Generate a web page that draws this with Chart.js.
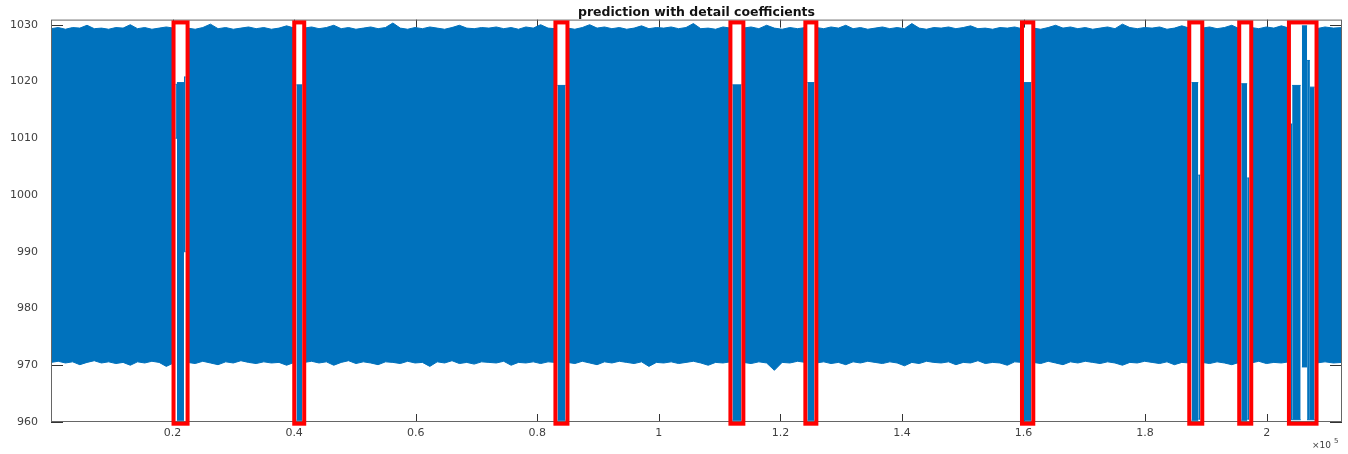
<!DOCTYPE html>
<html>
<head>
<meta charset="utf-8">
<script src="https://cdn.jsdelivr.net/npm/chart.js@4.4.0/dist/chart.umd.min.js"></script>
<style>
  html, body { margin: 0; padding: 0; background: #fff; }
  canvas { display: block; }
</style>
</head>
<body>
<canvas id="grafica" width="1348" height="454"></canvas>
<script>
// Ejes (x en unidades de 10^5)
const xTickValues = [0.2, 0.4, 0.6, 0.8, 1, 1.2, 1.4, 1.6, 1.8, 2];
const yTickValues = [960, 970, 980, 990, 1000, 1010, 1020, 1030];
const xMax = 2.124;
const yMin = 960;
const yMax = 1030.9;

// Banda principal de la señal: tramos entre los recuadros
const bandStart = [0, 0.2247, 0.4166, 0.8497, 1.1391, 1.2592, 1.6161, 1.8941, 1.9747, 2.0821];
const bandEnd = [0.2016, 0.4002, 0.8299, 1.1178, 1.2411, 1.5975, 1.8727, 1.9549, 2.0367, 2.124];
const bandTop = [
  [1029.3, 1029.5, 1029.2, 1029.5, 1029.4, 1029.9, 1029.3, 1029.4, 1029.2, 1029.5, 1029.4, 1030.0, 1029.3, 1029.5, 1029.2, 1029.4, 1029.6, 1029.4],
  [1029.4, 1029.2, 1029.5, 1030.1, 1029.3, 1029.5, 1029.2, 1029.4, 1029.6, 1029.3, 1029.5, 1029.2, 1029.4, 1029.8, 1029.4],
  [1029.4, 1029.6, 1029.3, 1029.5, 1029.9, 1029.3, 1029.5, 1029.2, 1029.4, 1029.6, 1029.3, 1029.5, 1030.3, 1029.4, 1029.2, 1029.5, 1029.3, 1029.6, 1029.4, 1029.2, 1029.5, 1029.9, 1029.4, 1029.3, 1029.5, 1029.4, 1029.6, 1029.3, 1029.5, 1029.2, 1029.6, 1029.4, 1030.0, 1029.4, 1029.3],
  [1029.4, 1029.2, 1029.5, 1030.0, 1029.4, 1029.6, 1029.3, 1029.5, 1029.2, 1029.4, 1029.8, 1029.3, 1029.5, 1029.4, 1029.6, 1029.3, 1029.5, 1030.2, 1029.3, 1029.4, 1029.2, 1029.6, 1029.4],
  [1029.4, 1029.6, 1029.3, 1029.9, 1029.4, 1029.2, 1029.5, 1029.3, 1029.5],
  [1029.5, 1029.3, 1029.6, 1029.4, 1029.9, 1029.3, 1029.5, 1029.2, 1029.4, 1029.6, 1029.3, 1029.5, 1029.3, 1030.2, 1029.4, 1029.2, 1029.5, 1029.4, 1029.6, 1029.3, 1029.5, 1029.8, 1029.3, 1029.4, 1029.2, 1029.5, 1029.4, 1029.6, 1029.3],
  [1029.4, 1029.2, 1029.5, 1029.9, 1029.4, 1029.6, 1029.3, 1029.5, 1029.2, 1029.4, 1029.6, 1029.3, 1030.1, 1029.5, 1029.3, 1029.5, 1029.4, 1029.6, 1029.2, 1029.4, 1029.8, 1029.4],
  [1029.4, 1029.6, 1029.3, 1029.5, 1029.9, 1029.3],
  [1029.5, 1029.3, 1029.6, 1029.4, 1029.8, 1029.4],
  [1029.3, 1029.6, 1029.4, 1029.5]
];
const bandBot = [
  [970.5, 970.7, 970.4, 970.6, 970.1, 970.5, 970.8, 970.4, 970.6, 970.3, 970.5, 970.0, 970.6, 970.4, 970.7, 970.5, 969.8, 970.4],
  [970.5, 970.3, 970.7, 970.4, 970.1, 970.6, 970.4, 970.8, 970.5, 970.3, 970.6, 970.4, 970.5, 970.0, 970.5],
  [970.5, 970.7, 970.4, 970.6, 970.0, 970.5, 970.8, 970.3, 970.6, 970.4, 970.1, 970.6, 970.5, 970.3, 970.7, 970.4, 970.5, 969.8, 970.6, 970.4, 970.8, 970.3, 970.5, 970.2, 970.6, 970.5, 970.4, 970.7, 970.0, 970.5, 970.4, 970.6, 970.3, 970.6, 970.5],
  [970.5, 970.3, 970.7, 970.4, 970.1, 970.6, 970.4, 970.7, 970.5, 970.3, 970.6, 969.8, 970.5, 970.4, 970.6, 970.3, 970.5, 970.7, 970.4, 970.0, 970.5, 970.4, 970.6],
  [970.5, 970.3, 970.6, 970.4, 969.1, 970.5, 970.4, 970.7, 970.5],
  [970.4, 970.6, 970.3, 970.5, 970.1, 970.6, 970.4, 970.7, 970.5, 970.3, 970.6, 970.4, 969.9, 970.5, 970.3, 970.7, 970.5, 970.4, 970.6, 970.1, 970.5, 970.4, 970.8, 970.3, 970.5, 970.4, 970.0, 970.6, 970.5],
  [970.5, 970.3, 970.7, 970.4, 970.1, 970.6, 970.4, 970.7, 970.5, 970.3, 970.6, 970.4, 970.0, 970.5, 970.4, 970.7, 970.5, 970.3, 970.6, 970.1, 970.5, 970.4],
  [970.5, 970.3, 970.6, 970.4, 970.1, 970.5],
  [970.4, 970.7, 970.3, 970.5, 970.4, 970.6],
  [970.4, 970.6, 970.4, 970.5]
];

// Columnas dentro de los recuadros (caídas de la señal)
const colStart = [0.2049, 0.2072, 0.2188, 0.4037, 0.8332, 1.1210, 1.2444, 1.6008, 1.8765, 1.8875, 1.9582, 1.9680, 2.0395, 2.0420, 2.0580, 2.0666, 2.0712];
const colEnd   = [0.2072, 0.2188, 0.2214, 0.4133, 0.8464, 1.1359, 1.2559, 1.6128, 1.8875, 1.8908, 1.9680, 1.9714, 2.0420, 2.0560, 2.0666, 2.0712, 2.0790];
const colTop   = [1019.5, 1019.8, 1020.8, 1019.4, 1019.3, 1019.4, 1019.8, 1019.8, 1019.8, 1003.5, 1019.6, 1003.0, 1012.5, 1019.3, 1029.8, 1023.7, 1019.0];
const colBot   = [1010.0, 960.3, 990.0, 960.3, 960.3, 960.3, 960.3, 960.3, 960.3, 960.5, 960.3, 960.5, 960.4, 960.4, 969.7, 960.4, 960.4];

// Recuadros rojos
const boxStart = [0.2016, 0.4002, 0.8299, 1.1178, 1.2411, 1.5975, 1.8727, 1.9549, 2.0367];
const boxEnd   = [0.2247, 0.4166, 0.8497, 1.1391, 1.2592, 1.6161, 1.8941, 1.9747, 2.0821];
const boxTop = 1030.4;
const boxBottom = 959.7;

const titulo = "prediction with detail coefficients";
const azul = "#0072BD";

// Armar los puntos de las envolventes (null separa los tramos)
const piezas = [];
bandStart.forEach((s, i) => {
  const n = bandTop[i].length;
  const xs = bandTop[i].map((_, j) => s + (bandEnd[i] - s) * j / (n - 1));
  piezas.push({ start: s, xs: xs, top: bandTop[i], bot: bandBot[i] });
});
colStart.forEach((s, i) => {
  piezas.push({ start: s, xs: [s, colEnd[i]], top: [colTop[i], colTop[i]], bot: [colBot[i], colBot[i]] });
});
piezas.sort((a, b) => a.start - b.start);

const puntosTop = [];
const puntosBot = [];
piezas.forEach((p, k) => {
  p.xs.forEach((x, j) => {
    puntosTop.push({ x: x, y: p.top[j] });
    puntosBot.push({ x: x, y: p.bot[j] });
  });
  if (k < piezas.length - 1) {
    const xm = (p.xs[p.xs.length - 1] + piezas[k + 1].start) / 2;
    puntosTop.push({ x: xm, y: null });
    puntosBot.push({ x: xm, y: null });
  }
});

// Marco, marcas de ejes, recuadros y textos al estilo MATLAB
const decoraciones = {
  id: "decoraciones",
  beforeDatasetsDraw(chart) {
    const { ctx, chartArea: a, scales } = chart;
    ctx.save();
    ctx.strokeStyle = "#333";
    ctx.lineWidth = 1;
    ctx.beginPath();
    yTickValues.forEach(v => {
      const y = Math.round(scales.y.getPixelForValue(v)) + 0.5;
      ctx.moveTo(a.left, y); ctx.lineTo(a.left + 12, y);
      ctx.moveTo(a.right, y); ctx.lineTo(a.right - 12, y);
    });
    xTickValues.forEach(v => {
      const x = Math.round(scales.x.getPixelForValue(v)) + 0.5;
      ctx.moveTo(x, a.bottom); ctx.lineTo(x, a.bottom - 8);
      ctx.moveTo(x, a.top); ctx.lineTo(x, a.top + 8);
    });
    ctx.stroke();
    ctx.restore();
  },
  afterDatasetsDraw(chart) {
    const { ctx, chartArea: a, scales } = chart;
    ctx.save();
    ctx.strokeStyle = "#666";
    ctx.lineWidth = 1;
    ctx.strokeRect(a.left + 0.5, a.top + 0.5, a.right - a.left - 1, a.bottom - a.top - 1);

    ctx.strokeStyle = "#ff0000";
    ctx.lineWidth = 4;
    boxStart.forEach((s, i) => {
      const x0 = scales.x.getPixelForValue(s);
      const x1 = scales.x.getPixelForValue(boxEnd[i]);
      const y0 = scales.y.getPixelForValue(boxTop);
      const y1 = scales.y.getPixelForValue(boxBottom);
      ctx.strokeRect(x0, y0, x1 - x0, y1 - y0);
    });

    ctx.fillStyle = "#111";
    ctx.font = "bold 12.5px 'DejaVu Sans'";
    ctx.textAlign = "center";
    ctx.textBaseline = "middle";
    ctx.fillText(titulo, (a.left + a.right) / 2, 12.5);

    ctx.fillStyle = "#404040";
    ctx.textAlign = "left";
    ctx.textBaseline = "alphabetic";
    ctx.font = "9px 'DejaVu Sans'";
    ctx.fillText("\u00d710", a.right - 30, a.bottom + 26);
    ctx.font = "7px 'DejaVu Sans'";
    ctx.fillText("5", a.right - 8, a.bottom + 21);
    ctx.restore();
  }
};

const fuenteTicks = { family: "'DejaVu Sans'", size: 11 };

new Chart(document.getElementById("grafica").getContext("2d"), {
  type: "line",
  data: {
    datasets: [
      {
        label: "top",
        data: puntosTop,
        borderColor: azul,
        borderWidth: 1,
        pointRadius: 0,
        tension: 0,
        spanGaps: false,
        fill: false
      },
      {
        label: "bottom",
        data: puntosBot,
        borderColor: azul,
        backgroundColor: azul,
        borderWidth: 1,
        pointRadius: 0,
        tension: 0,
        spanGaps: false,
        fill: "-1"
      }
    ]
  },
  options: {
    responsive: false,
    animation: false,
    devicePixelRatio: 1,
    layout: { padding: { top: 19, right: 6, left: 0, bottom: 0 } },
    plugins: {
      legend: { display: false },
      tooltip: { enabled: false },
      title: { display: false }
    },
    scales: {
      x: {
        type: "linear",
        min: 0,
        max: xMax,
        grid: { display: false, drawTicks: false },
        border: { display: false },
        ticks: {
          padding: 5,
          font: fuenteTicks,
          color: "#404040",
          maxRotation: 0,
          autoSkip: false,
          callback: v => String(v)
        },
        afterBuildTicks: s => { s.ticks = xTickValues.map(v => ({ value: v })); },
        afterFit: s => { s.height = 32; }
      },
      y: {
        min: yMin,
        max: yMax,
        grid: { display: false, drawTicks: false },
        border: { display: false },
        ticks: {
          padding: 13,
          font: fuenteTicks,
          color: "#404040",
          autoSkip: false,
          callback: v => String(v)
        },
        afterBuildTicks: s => { s.ticks = yTickValues.map(v => ({ value: v })); },
        afterFit: s => { s.width = 51; }
      }
    }
  },
  plugins: [decoraciones]
});
</script>
</body>
</html>
